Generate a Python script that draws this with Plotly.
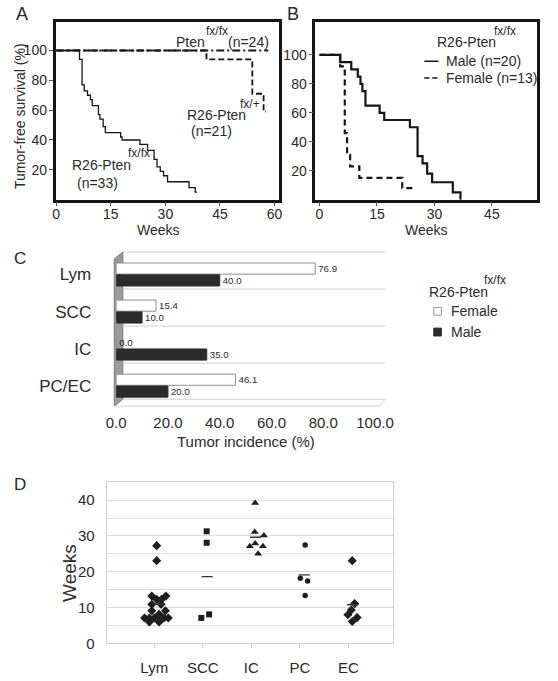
import plotly.graph_objects as go
import numpy as np

W, H = 558, 681
FONT = "Liberation Sans, Arial, sans-serif"
TXT = "#2a2a2a"
INK = "#151515"


def px(x):
    return x / W


def py(y):
    return 1 - y / H


# ---------------- Panel A : tumor-free survival ----------------
a_pten_weeks = [0, 58.3]
a_pten_surv = [100, 100]

a_fxplus_weeks = [0, 41.3, 53.9, 57.0, 57.6]
a_fxplus_surv = [100, 94, 71, 59, 59]

a_fxfx_weeks = [0, 6.4, 7.1, 7.7, 8.6, 9.4, 9.9, 11.6, 12.0, 12.9, 13.5, 17.7,
                18.1, 23.0, 25.1, 26.9, 27.7, 28.6, 29.5, 30.6, 36.5, 38.2, 38.7]
a_fxfx_surv = [100, 94, 77, 73, 70, 67, 63, 57, 54, 49, 45, 42,
               40, 37, 33, 27, 22, 19, 16, 12, 8, 5, 5]

# ---------------- Panel B : by sex ----------------
b_male_weeks = [0, 5.4, 8.3, 10.0, 10.7, 11.2, 12.0, 15.7, 16.9, 23.6, 25.6,
                26.9, 28.1, 29.4, 34.8, 36.8]
b_male_surv = [100, 95, 90, 85, 80, 75, 65, 60, 55, 50, 30,
               25, 18, 12, 5, 0]

b_female_weeks = [0, 5.4, 6.6, 7.2, 8.0, 10.4, 21.6, 24.7]
b_female_surv = [100, 92, 46, 31, 23, 15, 8, 8]

# ---------------- Panel C : tumor incidence ----------------
c_categories = ["Lym", "SCC", "IC", "PC/EC"]
c_female = [76.9, 15.4, 0.0, 46.1]
c_male = [40.0, 10.0, 35.0, 20.0]
c_ticks = [0, 20, 40, 60, 80, 100]

# ---------------- Panel D : latency by tumor type ----------------
d_categories = ["Lym", "SCC", "IC", "PC", "EC"]
d_lym_weeks = [27.3, 23.1, 13.2, 13.2, 12.3, 12.3, 10.9, 10.9, 9.1, 9.1, 8.1,
               7.1, 7.1, 7.1, 7.1, 7.1, 6.0, 6.0]
d_lym_jitter = [0.05, 0.05, -0.05, 0.24, 0.05, 0.15, -0.05, 0.14, -0.05, 0.23, 0.10,
                -0.20, -0.10, 0.0, 0.20, 0.29, -0.10, 0.10]
d_scc_weeks = [31.3, 28.1, 7.1, 8.1]
d_scc_jitter = [0.08, 0.08, -0.03, 0.13]
d_ic_weeks = [39.2, 31.1, 30.1, 27.9, 27.1, 27.1, 25.0]
d_ic_jitter = [0.08, 0.07, 0.26, 0.08, -0.03, 0.24, 0.14]
d_pc_weeks = [27.5, 18.2, 17.4, 13.4]
d_pc_jitter = [0.11, 0.01, 0.16, 0.11]
d_ec_weeks = [23.1, 11.1, 9.3, 8.0, 7.2, 6.1]
d_ec_jitter = [0.08, 0.13, 0.06, -0.01, 0.18, 0.08]

fig = go.Figure()

# Panel A traces
fig.add_trace(go.Scatter(x=a_pten_weeks, y=a_pten_surv, mode="lines",
                         line=dict(shape="hv", color=INK, width=1.8, dash="8px,3px,2px,3px"),
                         xaxis="x", yaxis="y", showlegend=False, hoverinfo="skip"))
fig.add_trace(go.Scatter(x=a_fxplus_weeks, y=a_fxplus_surv, mode="lines",
                         line=dict(shape="hv", color=INK, width=1.8, dash="6px,3px"),
                         xaxis="x", yaxis="y", showlegend=False, hoverinfo="skip"))
fig.add_trace(go.Scatter(x=a_fxfx_weeks, y=a_fxfx_surv, mode="lines",
                         line=dict(shape="hv", color=INK, width=1.3),
                         xaxis="x", yaxis="y", showlegend=False, hoverinfo="skip"))

# Panel B traces
fig.add_trace(go.Scatter(x=b_male_weeks, y=b_male_surv, mode="lines",
                         line=dict(shape="hv", color=INK, width=2.2),
                         xaxis="x2", yaxis="y2", showlegend=False, hoverinfo="skip"))
fig.add_trace(go.Scatter(x=b_female_weeks, y=b_female_surv, mode="lines",
                         line=dict(shape="hv", color=INK, width=2.2, dash="6px,4px"),
                         xaxis="x2", yaxis="y2", showlegend=False, hoverinfo="skip"))

# Panel C traces
fig.add_trace(go.Bar(y=c_categories, x=c_female, orientation="h",
                     marker=dict(color="white", line=dict(color="#8c8c8c", width=1)),
                     text=[f"{v:.1f}" for v in c_female], textposition="outside",
                     textfont=dict(size=13, color=TXT, family=FONT), cliponaxis=False,
                     xaxis="x3", yaxis="y3", showlegend=False, hoverinfo="skip"))
fig.add_trace(go.Bar(y=c_categories, x=c_male, orientation="h",
                     marker=dict(color="#2b2b2b", line=dict(color="#2b2b2b", width=1)),
                     text=[f"{v:.1f}" for v in c_male], textposition="outside",
                     textfont=dict(size=13, color=TXT, family=FONT), cliponaxis=False,
                     xaxis="x3", yaxis="y3", showlegend=False, hoverinfo="skip"))

# Panel D traces
groups = [
    (d_lym_weeks, d_lym_jitter, "diamond", 7),
    (d_scc_weeks, d_scc_jitter, "square", 6),
    (d_ic_weeks, d_ic_jitter, "triangle-up", 7),
    (d_pc_weeks, d_pc_jitter, "circle", 5.5),
    (d_ec_weeks, d_ec_jitter, "diamond", 7),
]
for i, (wk, jit, sym, sz) in enumerate(groups):
    pos = i + 1
    fig.add_trace(go.Scatter(x=[pos + j for j in jit], y=wk, mode="markers",
                             marker=dict(symbol=sym, size=sz, color="#1e1e1e"),
                             xaxis="x4", yaxis="y4", showlegend=False, hoverinfo="skip",
                             cliponaxis=False))
    fig.add_trace(go.Scatter(x=[pos + 0.09], y=[float(np.mean(wk))], mode="markers",
                             marker=dict(symbol="line-ew", size=8,
                                         line=dict(width=1.4, color="#333")),
                             xaxis="x4", yaxis="y4", showlegend=False, hoverinfo="skip"))

tickfont = dict(size=14, color=TXT, family=FONT)

frame = dict(showline=True, mirror=True, linewidth=2.5, linecolor=INK,
             showgrid=False, zeroline=False, ticks="outside", ticklen=4,
             tickcolor="#555", tickwidth=1, tickfont=tickfont)

fig.update_layout(
    width=W, height=H, margin=dict(l=0, r=0, t=0, b=0),
    paper_bgcolor="white", plot_bgcolor="white",
    font=dict(family=FONT, color=TXT),
    barmode="group", bargap=0.36, bargroupgap=0.06,
    xaxis=dict(domain=[px(48), px(284)], range=[-0.2, 61.3], tickvals=[0, 15, 30, 45, 60],
               anchor="y", ticklabelstandoff=-4, **frame),
    yaxis=dict(domain=[py(202), py(22)], range=[0, 119.3], tickvals=[20, 40, 60, 80, 100],
               anchor="x", ticklabelstandoff=-1, **frame),
    xaxis2=dict(domain=[px(322), px(556)], range=[-1.1, 56.8], tickvals=[0, 15, 30, 45],
                anchor="y2", ticklabelstandoff=-4, **frame),
    yaxis2=dict(domain=[py(202), py(22)], range=[0, 122.9], tickvals=[20, 40, 60, 80, 100],
                anchor="x2", ticklabelstandoff=-1, **frame),
    xaxis3=dict(domain=[px(112), px(385)], range=[0, 100], tickvals=c_ticks,
                tickformat=".1f", showgrid=False, zeroline=False, showline=False,
                ticks="", ticklabelstandoff=8,
                tickfont=dict(size=15, color=TXT, family=FONT), anchor="y3"),
    yaxis3=dict(domain=[py(409), py(259)], type="category",
                categoryorder="array", categoryarray=c_categories, autorange="reversed",
                showgrid=False, zeroline=False, showline=False, ticks="",
                ticklabelstandoff=24,
                tickfont=dict(size=17, color=TXT, family=FONT), anchor="x3"),
    xaxis4=dict(domain=[px(102), px(404)], range=[0.02, 5.92], tickvals=[1, 2, 3, 4, 5],
                ticktext=d_categories, showline=True, mirror=True, linecolor="#cfcfcf",
                linewidth=1, showgrid=False, zeroline=False, ticks="outside", ticklen=4,
                tickcolor="#cfcfcf", ticklabelstandoff=7,
                tickfont=dict(size=15, color=TXT, family=FONT), anchor="y4"),
    yaxis4=dict(domain=[py(651), py(488)], range=[0, 45],
                tickvals=[0, 5, 10, 15, 20, 25, 30, 35, 40],
                ticktext=["0", "", "10", "", "20", "", "30", "", "40"],
                showline=True, mirror=True, linecolor="#cfcfcf", linewidth=1,
                showgrid=True, gridcolor="#dcdcdc", gridwidth=1, zeroline=False,
                ticks="", ticklabelstandoff=8,
                tickfont=dict(size=15, color=TXT, family=FONT), anchor="x4"),
)


def ann(text, x, y, size=14, xanchor="center", yanchor="middle", angle=0):
    return dict(text=text, x=px(x), y=py(y), xref="paper", yref="paper",
                showarrow=False, textangle=angle,
                font=dict(size=size, color=TXT, family=FONT),
                xanchor=xanchor, yanchor=yanchor)


annotations = [
    # panel letters
    ann("A", 13, 14, 18), ann("B", 299, 14, 18), ann("C", 11, 262, 17), ann("D", 11, 490, 17),
    # panel A
    ann("Tumor-free survival (%)", 10, 117, 14, angle=-90),
    ann("Weeks", 157, 233, 14),
    ann("Pten", 173, 42, 14, "left"), ann("fx/fx", 205, 31, 12, "left"),
    ann("(n=24)", 228, 42, 14, "left"),
    ann("R26-Pten", 185, 116, 14, "left"), ann("fx/+", 241, 105, 12, "left"),
    ann("(n=21)", 213, 133, 14),
    ann("R26-Pten", 63, 167, 14, "left"), ann("fx/fx", 122, 155, 12, "left"),
    ann("(n=33)", 92, 185, 14),
    # panel B
    ann("Weeks", 439, 233, 14),
    ann("R26-Pten", 448, 43, 14, "left"), ann("fx/fx", 508, 31, 12, "left"),
    ann("Male (n=20)", 458, 62, 14, "left"),
    ann("Female (n=13)", 458, 79, 14, "left"),
    # panel C
    ann("Tumor incidence (%)", 249, 447, 15),
    ann("R26-Pten", 440, 295, 14, "left"), ann("fx/fx", 498, 283, 12, "left"),
    ann("Female", 463, 315, 14, "left"),
    ann("Male", 463, 336, 14, "left"),
    # panel D
    ann("Weeks", 62, 580, 19, angle=-90),
]

shapes = [
    # panel B legend keys
    dict(type="line", xref="paper", yref="paper", x0=px(437), x1=px(452), y0=py(62), y1=py(62),
         line=dict(color=INK, width=1.5)),
    dict(type="line", xref="paper", yref="paper", x0=px(437), x1=px(453), y0=py(79), y1=py(79),
         line=dict(color=INK, width=1.5, dash="5px,3px")),
    # panel C legend keys
    dict(type="rect", xref="paper", yref="paper", x0=px(447), x1=px(455), y0=py(319), y1=py(311),
         fillcolor="white", line=dict(color="#9a9a9a", width=1)),
    dict(type="rect", xref="paper", yref="paper", x0=px(447), x1=px(455), y0=py(340), y1=py(332),
         fillcolor="#2b2b2b", line=dict(color="#2b2b2b", width=1)),
    # panel C 3D wall
    dict(type="path", xref="paper", yref="paper", layer="below",
         path=(f"M {px(110)} {py(262)} L {px(119)} {py(255)} L {px(119)} {py(404)} "
               f"L {px(110)} {py(411)} Z"),
         fillcolor="#9c9c9c", line=dict(color="#7a7a7a", width=1)),
    # panel C floor
    dict(type="path", xref="paper", yref="paper", layer="below",
         path=(f"M {px(110)} {py(411)} L {px(389)} {py(411)} L {px(396)} {py(404)}"),
         line=dict(color="#d2d2d2", width=1)),
]
for yy in [255, 292.5, 330, 367.5, 404]:
    shapes.append(dict(type="line", xref="paper", yref="paper", layer="below",
                       x0=px(119), x1=px(396), y0=py(yy), y1=py(yy),
                       line=dict(color="#d2d2d2", width=1)))

fig.update_layout(annotations=annotations, shapes=shapes)

fig.write_html("out.html", config={"displayModeBar": False},
               post_script="document.body.style.margin='0';document.body.style.overflow='hidden';")
